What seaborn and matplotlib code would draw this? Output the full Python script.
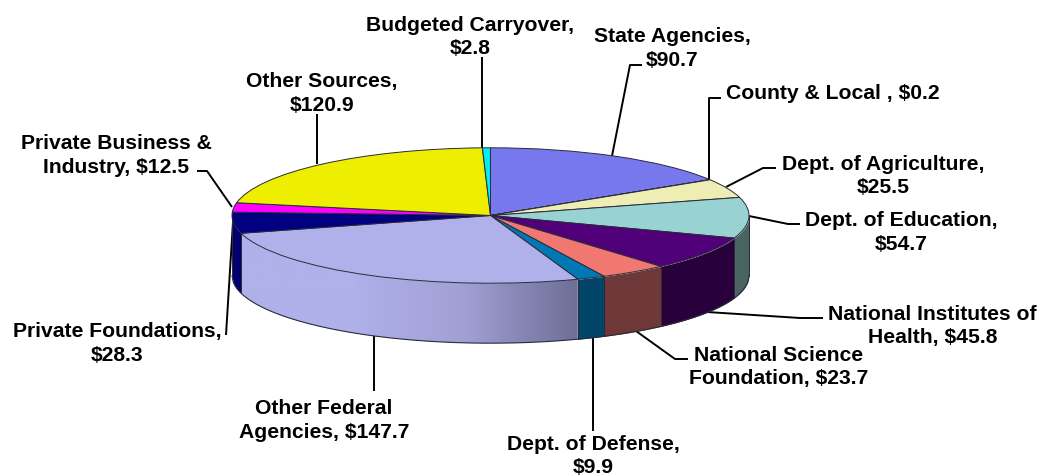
import numpy as np
import matplotlib
matplotlib.use("Agg")
import matplotlib.pyplot as plt
from matplotlib.patches import Polygon
import seaborn as sns

# Funding by source, in millions of dollars, clockwise from twelve o'clock
sources = ["State Agencies", "County & Local", "Dept. of Agriculture", "Dept. of Education",
           "National Institutes of Health", "National Science Foundation", "Dept. of Defense",
           "Other Federal Agencies", "Private Foundations", "Private Business & Industry",
           "Other Sources", "Budgeted Carryover"]
amounts = [90.7, 0.2, 25.5, 54.7, 45.8, 23.7, 9.9, 147.7, 28.3, 12.5, 120.9, 2.8]
label_texts = ["State Agencies,\n$90.7", "County & Local , $0.2", "Dept. of Agriculture,\n$25.5",
               "Dept. of Education,\n$54.7", "National Institutes of\nHealth, $45.8",
               "National Science\nFoundation, $23.7", "Dept. of Defense,\n$9.9",
               "Other Federal\nAgencies, $147.7", "Private Foundations,\n$28.3",
               "Private Business &\nIndustry, $12.5", "Other Sources,\n$120.9",
               "Budgeted Carryover,\n$2.8"]

top_colors = ["#7878EE", "#F4F4C0", "#EEEEB4", "#99D2D2", "#500078", "#F07870",
              "#0078B4", "#B0B0EA", "#000080", "#FF00FF", "#EEEE00", "#00EEEE"]
side_colors = ["#3C3C78", "#7A7A60", "#78785A", "#4A6464", "#28003C", "#6E3838",
               "#004468", "#B0B0EA", "#000070", "#800080", "#787800", "#007878"]

# Layout of the tilted disc, in pixels of the 1041x477 canvas
W, H = 1041, 477
CX, CY, RX, RY, DEPTH = 490.5, 216.5, 258.5, 67.7, 60.0


def to_data(px, py):
    return (px - CX) / RX, (CY - py) / RY


sns.set_theme(style="white", font="Liberation Sans")
fig = plt.figure(figsize=(W / 100, H / 100), dpi=100)
ax = fig.add_axes([0, 0, 1, 1])

EDGE = "#2A2A3A"
ax.pie(amounts, colors=sns.color_palette(top_colors), startangle=90, counterclock=False,
       radius=1, wedgeprops=dict(edgecolor=EDGE, linewidth=0.7))
ax.axis("off")

# Front wall of the disc: only the part between 90 and 270 degrees clockwise shows
depth = DEPTH / RY
ends = np.cumsum(amounts) / np.sum(amounts) * 360
starts = np.concatenate([[0], ends[:-1]])
federal = sources.index("Other Federal Agencies")


def rim(x):
    return -np.sqrt(np.clip(1 - x ** 2, 0, 1))


for i, (a, b) in enumerate(zip(starts, ends)):
    a, b = max(a, 90), min(b, 270)
    if a >= b:
        continue
    x1, x0 = np.sin(np.radians(a)), np.sin(np.radians(b))
    xs = np.linspace(x0, x1, 200)
    if i == federal:
        # Lit from the left, falling off towards the right-hand end of the wedge
        shade = sns.blend_palette(["#B0B0EA", "#B0B0EA", "#A0A0D4", "#6E6E96"], as_cmap=True)
        outline = np.column_stack([np.r_[xs, xs[::-1]], np.r_[rim(xs), rim(xs[::-1]) - depth]])
        clip = Polygon(outline, transform=ax.transData, facecolor="none", edgecolor="none")
        ax.add_patch(clip)
        img = ax.imshow(np.linspace(0, 1, 256)[None, :], cmap=shade, aspect="auto", zorder=0.5,
                        extent=(x0, x1, rim(xs).min() - depth, rim(xs).max()))
        img.set_clip_path(clip)
    else:
        ax.fill_between(xs, rim(xs), rim(xs) - depth, color=side_colors[i], linewidth=0, zorder=0.5)
    for xe in (x0, x1):
        ax.plot([xe, xe], [rim(xe), rim(xe) - depth], color=EDGE, lw=0.7, zorder=0.7)

xs = np.linspace(-1, 1, 400)
ax.plot(xs, rim(xs) - depth, color=EDGE, lw=0.8, zorder=0.7)

# Leader lines and their labels
leaders = {
    "State Agencies": [(612, 157), (630, 66), (642, 66)],
    "County & Local": [(709, 180), (709, 99), (721, 99)],
    "Dept. of Agriculture": [(726, 188), (763, 169), (776, 169)],
    "Dept. of Education": [(749, 217), (788, 225), (800, 225)],
    "National Institutes of Health": [(707, 313), (800, 319), (823, 319)],
    "National Science Foundation": [(636, 332), (675, 360), (688, 360)],
    "Dept. of Defense": [(593, 339), (593, 432)],
    "Other Federal Agencies": [(374, 337), (374, 392)],
    "Private Foundations": [(233, 223), (226, 336)],
    "Private Business & Industry": [(232, 208), (207, 172), (197, 172)],
    "Other Sources": [(317, 165), (317, 115)],
    "Budgeted Carryover": [(482, 149), (482, 58)],
}
anchors = {
    "State Agencies": (672.5, 48.5, "center"),
    "County & Local": (726, 94, "left"),
    "Dept. of Agriculture": (883, 176, "center"),
    "Dept. of Education": (901, 232.5, "center"),
    "National Institutes of Health": (932.5, 326, "center"),
    "National Science Foundation": (778.5, 367, "center"),
    "Dept. of Defense": (593, 456, "center"),
    "Other Federal Agencies": (324, 420.5, "center"),
    "Private Foundations": (117, 343.5, "center"),
    "Private Business & Industry": (116.5, 155.5, "center"),
    "Other Sources": (322, 93.5, "center"),
    "Budgeted Carryover": (470, 37, "center"),
}
for name, text in zip(sources, label_texts):
    pts = np.array([to_data(*p) for p in leaders[name]])
    ax.plot(pts[:, 0], pts[:, 1], color="black", lw=1.4, zorder=0.4, solid_capstyle="butt")
    px, py, ha = anchors[name]
    tx, ty = to_data(px, py)
    ax.text(tx, ty, text, ha=ha, va="center", ma="center", fontsize=15.2,
            fontweight="bold", color="black", linespacing=1.25 if name == "Dept. of Defense" else 1.3)

# The limits come last because imshow and pie both adjust them
ax.set_aspect("auto")
ax.set_xlim(*[to_data(v, 0)[0] for v in (0, W)])
ax.set_ylim(to_data(0, H)[1], to_data(0, 0)[1])

fig.savefig("out.png", dpi=100)
